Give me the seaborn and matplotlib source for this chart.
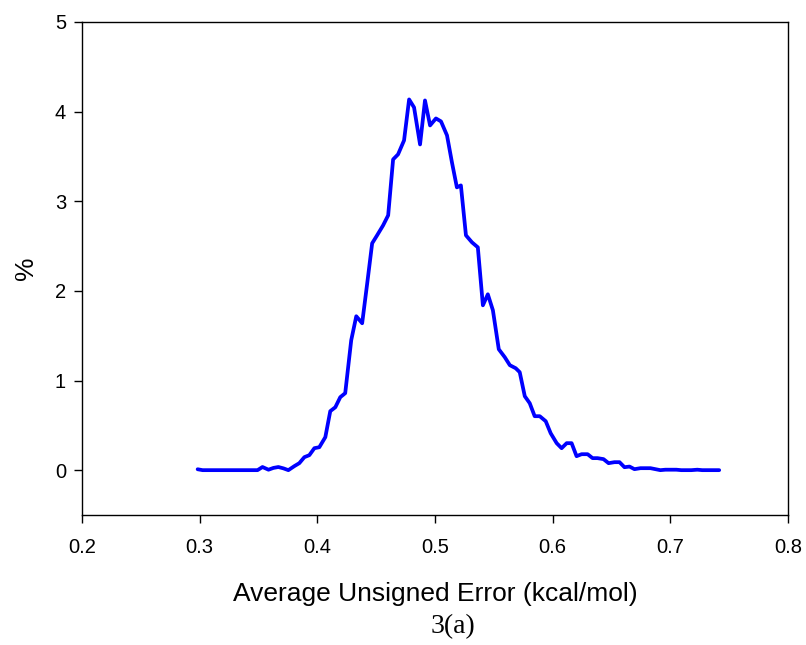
import matplotlib
matplotlib.use("Agg")
import matplotlib.pyplot as plt
import seaborn as sns
import pandas as pd

# Data
aue = [0.2983, 0.3025, 0.3068, 0.3110, 0.3153, 0.3195, 0.3237, 0.3280, 0.3322, 0.3364,
       0.3407, 0.3449, 0.3492, 0.3534, 0.3585, 0.3627, 0.3669, 0.3712, 0.3754, 0.3805,
       0.3847, 0.3890, 0.3932, 0.3975, 0.4017, 0.4068, 0.4110, 0.4153, 0.4195, 0.4237,
       0.4288, 0.4331, 0.4381, 0.4424, 0.4466, 0.4508, 0.4559, 0.4602, 0.4644, 0.4686,
       0.4737, 0.4780, 0.4822, 0.4873, 0.4915, 0.4958, 0.5008, 0.5051, 0.5102, 0.5144,
       0.5186, 0.5220, 0.5263, 0.5314, 0.5364, 0.5407, 0.5449, 0.5492, 0.5542, 0.5593,
       0.5636, 0.5686, 0.5720, 0.5763, 0.5805, 0.5847, 0.5890, 0.5941, 0.5983, 0.6034,
       0.6076, 0.6119, 0.6161, 0.6203, 0.6246, 0.6297, 0.6339, 0.6381, 0.6432, 0.6475,
       0.6525, 0.6568, 0.6610, 0.6653, 0.6695, 0.6746, 0.6788, 0.6831, 0.6873, 0.6915,
       0.6958, 0.7000, 0.7051, 0.7093, 0.7136, 0.7178, 0.7229, 0.7271, 0.7314, 0.7356,
       0.7415]
percent = [0.01, 0.0, 0.0, 0.0, 0.0, 0.0, 0.0, 0.0, 0.0, 0.0,
           0.0, 0.0, 0.0, 0.035, 0.005, 0.025, 0.035, 0.02, 0.0, 0.045,
           0.078, 0.145, 0.167, 0.245, 0.256, 0.368, 0.658, 0.702, 0.814, 0.859,
           1.449, 1.717, 1.639, 2.085, 2.531, 2.620, 2.731, 2.843, 3.467, 3.523,
           3.679, 4.136, 4.047, 3.634, 4.125, 3.846, 3.924, 3.891, 3.735, 3.434,
           3.155, 3.177, 2.620, 2.542, 2.486, 1.839, 1.962, 1.784, 1.349, 1.260,
           1.171, 1.137, 1.093, 0.825, 0.747, 0.602, 0.602, 0.546, 0.412, 0.301,
           0.245, 0.301, 0.301, 0.156, 0.178, 0.178, 0.134, 0.134, 0.123, 0.078,
           0.089, 0.089, 0.033, 0.040, 0.011, 0.022, 0.022, 0.022, 0.011, 0.0,
           0.005, 0.005, 0.005, 0.0, 0.0, 0.0, 0.005, 0.0, 0.0, 0.0,
           0.0]
x_ticks = [0.2, 0.3, 0.4, 0.5, 0.6, 0.7, 0.8]
y_ticks = [0, 1, 2, 3, 4, 5]

df = pd.DataFrame({"aue": aue, "pct": percent})

sns.set_style("ticks")
plt.rcParams["font.family"] = ["Liberation Sans", "DejaVu Sans"]
plt.rcParams["text.color"] = "black"
plt.rcParams["axes.labelcolor"] = "black"
plt.rcParams["xtick.color"] = "black"
plt.rcParams["ytick.color"] = "black"

fig = plt.figure(figsize=(8.06, 6.45), dpi=100)
ax = fig.add_axes([0.1017, 0.2016, 0.8760, 0.7643])

sns.lineplot(data=df, x="aue", y="pct", ax=ax, color="#0000ff", linewidth=2.7,
             estimator=None, sort=False)

ax.set_xlim(0.2, 0.8)
ax.set_ylim(-0.5, 5)
ax.set_xticks(x_ticks)
ax.set_xticklabels([f"{v:.1f}" for v in x_ticks])
ax.set_yticks(y_ticks)
ax.set_yticklabels([str(v) for v in y_ticks])

for s in ax.spines.values():
    s.set_visible(True)
    s.set_color("black")
    s.set_linewidth(1.0)

ax.tick_params(axis="x", direction="out", length=5.5, width=1, labelsize=14.5, pad=11, top=False)
ax.tick_params(axis="y", direction="out", length=5.5, width=1, labelsize=14.5, pad=6, right=False)

ax.set_xlabel("Average Unsigned Error (kcal/mol)", fontsize=19, labelpad=18)
ax.set_ylabel("%", fontsize=19, labelpad=12)

fig.text(0.562, 0.028, "3(a)", fontsize=20, family=["Liberation Serif", "DejaVu Serif"],
         ha="center", va="center")

fig.savefig("out.png", dpi=100, facecolor="white")
